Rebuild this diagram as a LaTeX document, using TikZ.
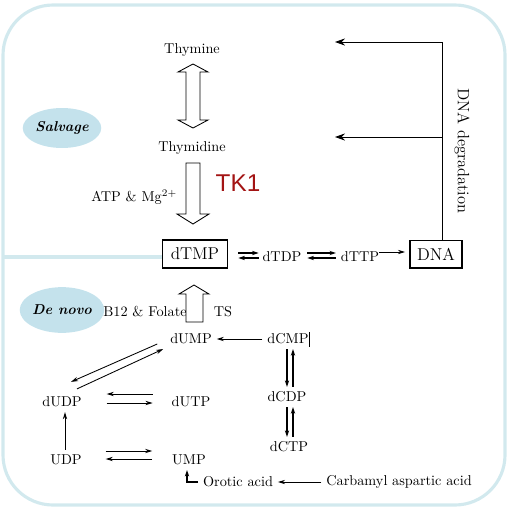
\documentclass[tikz,border=0pt]{standalone}
\usepackage{fontspec}
\newfontfamily\tkfont{Liberation Sans}
\usetikzlibrary{arrows.meta,shapes.geometric,positioning}
\usepackage{xcolor}
\definecolor{frameblue}{HTML}{D2E9EE}
\definecolor{paleblue}{HTML}{C4E2EC}
\definecolor{tkred}{HTML}{A31414}

\tikzset{
  lbl/.style={inner sep=0pt, outer sep=3.5pt, font=\fontsize{10}{12}\selectfont},
  metbox/.style={draw, line width=1.3pt, inner sep=0pt, font=\fontsize{12}{14}\selectfont},
  pool/.style={ellipse, fill=paleblue, inner sep=0pt, minimum width=55pt, font=\fontsize{10}{12}\selectfont\bfseries\itshape},
  conv/.style={-{Stealth[length=5pt,width=3pt]}, line width=0.6pt},
  boldconv/.style={-{Stealth[length=4.5pt,width=3pt]}, line width=1.2pt},
  degr/.style={-{Stealth[length=7pt,width=5pt]}, line width=0.7pt},
  hollow/.style={draw, line width=0.6pt, fill=white, line join=miter},
  frame/.style={frameblue, line width=2.2pt}
}

\begin{document}
\begin{tikzpicture}[x=0.7pt, y=-0.7pt]
  \useasboundingbox (0,0) rectangle (507,508);
  % cell outline and the salvage / de novo split
  \draw[frame, rounded corners=35pt] (3,5) rectangle (505,505);
  \draw[frame] (3,257) -- (162,257);

  \node[pool, minimum height=28pt] (salvage) at (62,128) {Salvage};
  \node[pool, minimum height=32pt] (denovo) at (62,310) {De novo};

  % salvage pathway
  \node[lbl] (thymine) at (192,50) {Thymine};
  \node[lbl] (thymidine) at (192,148) {Thymidine};
  \node[lbl, anchor=east] (atp) at (182,197) {ATP \& Mg$^{2+}$};
  \node[inner sep=0pt, font=\tkfont\fontsize{17}{17}\selectfont, text=tkred] (tk) at (238,183) {TK1};

  \node[metbox, minimum width=45.5pt, minimum height=19.6pt] (dtmp) at (195,254) {dTMP};
  \node[lbl] (dtdp) at (282,257) {dTDP};
  \node[lbl] (dttp) at (360,257) {dTTP};
  \node[metbox, minimum width=36.4pt, minimum height=19pt] (dna) at (436,254) {DNA};
  \node[lbl, rotate=-90, font=\fontsize{11.5}{13}\selectfont] (degrad) at (462,151) {DNA degradation};

  \draw[hollow] (193,64) -- (208,72) -- (200,72) -- (200,120) -- (208,120) -- (193,128)
    -- (178,120) -- (186,120) -- (186,72) -- (178,72) -- cycle;
  \draw[hollow] (186,163) -- (200,163) -- (200,214) -- (209,214) -- (193,224)
    -- (177,214) -- (186,214) -- cycle;

  \draw[boldconv, line width=1pt] ([shift={(10,-1)}]dtmp.east) -- ([shift={(1,-4)}]dtdp.west);
  \draw[boldconv, line width=1pt] ([shift={(1,1)}]dtdp.west) -- ([shift={(10,4)}]dtmp.east);
  \draw[boldconv, line width=1pt] ([shift={(1,-4)}]dtdp.east) -- ([shift={(0,-4)}]dttp.west);
  \draw[boldconv, line width=1pt] ([shift={(0,1)}]dttp.west) -- ([shift={(1,1)}]dtdp.east);
  \draw[conv] ([shift={(-5,-5)}]dttp.east) -- ([shift={(-4,-2)}]dna.west);

  \coordinate (back1) at (335,42);
  \coordinate (back2) at (335,137);
  \draw[degr] ([shift={(6,0)}]dna.north) |- (back1);
  \draw[degr] ([shift={(6,0)}]dna.north |- back2) -- (back2);

  % de novo pathway
  \node[lbl] (cofac) at (145,312) {B12 \& Folate};
  \node[lbl] (ts) at (223,312) {TS};
  \draw[hollow] (186,322) -- (186,294) -- (179,294) -- (194,285) -- (209,294)
    -- (203,294) -- (203,322) -- cycle;

  \node[lbl] (dump) at (191,339) {dUMP};
  \node[lbl] (dcmp) at (288,339) {dCMP};
  \node[lbl] (dudp) at (62,402) {dUDP};
  \node[lbl] (dutp) at (191,402) {dUTP};
  \node[lbl] (dcdp) at (287,397) {dCDP};
  \node[lbl] (dctp) at (289,447) {dCTP};
  \node[lbl] (udp) at (66,460) {UDP};
  \node[lbl] (ump) at (189,460) {UMP};
  \node[lbl] (orotic) at (238,482) {Orotic acid};
  \node[lbl] (carbamyl) at (399,482) {Carbamyl aspartic acid};

  \draw[line width=0.4pt] ([shift={(-4,-7)}]dcmp.east) -- ([shift={(-4,8)}]dcmp.east);

  \draw[conv] (dcmp.west) -- (dump.east);
  \draw[conv] ([shift={(-8,5)}]dump.west) -- ([shift={(9,-10)}]dudp.north);
  \draw[conv] ([shift={(15,-3)}]dudp.north) -- ([shift={(-2,10)}]dump.west);

  \draw[conv] ([shift={(-14,-8)}]dutp.west) -- ([shift={(20,-8)}]dudp.east);
  \draw[conv] ([shift={(20,1)}]dudp.east) -- ([shift={(-14,1)}]dutp.west);

  \draw[conv] ([shift={(19,-9)}]udp.east) -- ([shift={(-15,-9)}]ump.west);
  \draw[conv] ([shift={(-15,-1)}]ump.west) -- ([shift={(19,-1)}]udp.east);
  \draw[conv] ([shift={(-1,0)}]udp.north) -- ([shift={(-1,0)}]udp.north |- dudp.south);

  \draw[boldconv, line width=1.3pt] ([shift={(-1,0)}]dcmp.south) -- ([shift={(-1,0)}]dcmp.south |- dcdp.north);
  \draw[boldconv, line width=0.9pt] ([shift={(5,0)}]dcmp.south |- dcdp.north) -- ([shift={(5,0)}]dcmp.south);
  \draw[boldconv, line width=1.3pt] ([shift={(0,0)}]dcdp.south) -- ([shift={(0,0)}]dcdp.south |- dctp.north);
  \draw[boldconv, line width=0.9pt] ([shift={(6,0)}]dcdp.south |- dctp.north) -- ([shift={(6,0)}]dcdp.south);

  \draw[conv] (carbamyl.west) -- (orotic.east);
  \draw[boldconv] (orotic.west) -| ([shift={(-2,0)}]ump.south);
\end{tikzpicture}
\end{document}
